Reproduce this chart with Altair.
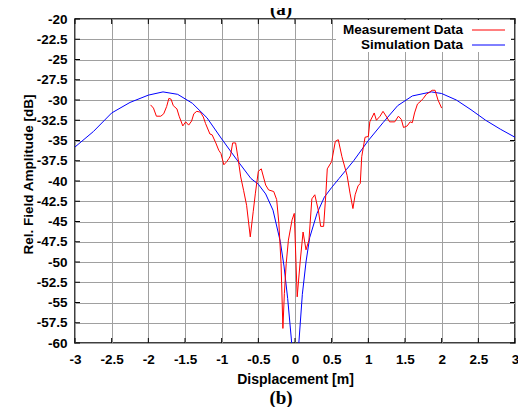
import altair as alt
import pandas as pd

# Simulation (blue) curve
sim_x = [-3.0, -2.75, -2.5, -2.25, -2.0, -1.8, -1.6, -1.4, -1.2, -1.0, -0.8, -0.6, -0.5, -0.4, -0.3,
         -0.2, -0.15, -0.1, -0.05, -0.03, 0.0, 0.03, 0.05, 0.1, 0.15, 0.2, 0.3, 0.4, 0.5, 0.6, 0.7,
         0.8, 1.0, 1.2, 1.4, 1.6, 1.86, 2.0, 2.2, 2.4, 2.6, 2.8, 3.0]
sim_y = [-35.8, -33.9, -31.6, -30.3, -29.4, -29.0, -29.3, -30.4, -32.2, -34.8, -37.3, -39.7, -40.4, -41.6, -43.6,
         -47.5, -50.5, -54.5, -59.5, -62.0, -70.0, -62.0, -60.3, -54.0, -50.0, -47.0, -44.0, -42.0, -40.8, -39.7, -38.6,
         -37.5, -35.0, -32.8, -30.7, -29.5, -29.0, -29.2, -30.0, -31.2, -32.5, -33.6, -34.6]

# Measurement (red) data
meas_x = [-1.97, -1.93, -1.89, -1.83, -1.79, -1.75, -1.72, -1.69, -1.66, -1.61, -1.58, -1.53, -1.49, -1.45,
          -1.41, -1.38, -1.34, -1.29, -1.25, -1.22, -1.16, -1.13, -1.08, -1.04, -1.01, -0.97, -0.93, -0.90,
          -0.88, -0.85, -0.81, -0.78, -0.74, -0.70, -0.66, -0.61, -0.57, -0.54, -0.50, -0.46, -0.40, -0.36,
          -0.29, -0.25, -0.22, -0.19, -0.165, -0.145, -0.12, -0.09, -0.04, -0.01, 0.03, 0.07, 0.11, 0.15,
          0.19, 0.23, 0.27, 0.32, 0.35, 0.39, 0.42, 0.44, 0.50, 0.55, 0.59, 0.64, 0.71, 0.75, 0.79, 0.82,
          0.86, 0.89, 0.91, 0.955, 1.0, 1.02, 1.08, 1.11, 1.16, 1.20, 1.25, 1.29, 1.36, 1.41, 1.45, 1.48,
          1.53, 1.57, 1.60, 1.63, 1.67, 1.72, 1.75, 1.79, 1.84, 1.87, 1.91, 1.95, 2.0]
meas_y = [-30.6, -31.0, -32.0, -32.0, -31.7, -30.8, -29.8, -29.9, -30.7, -31.1, -32.0, -33.2, -32.7, -33.1,
          -32.6, -31.7, -31.4, -31.5, -32.1, -32.9, -34.2, -34.3, -35.3, -36.2, -36.6, -38.0, -37.6, -37.2,
          -36.9, -35.3, -35.3, -37.0, -39.5, -41.2, -43.0, -46.9, -43.8, -41.5, -38.8, -38.5, -40.5, -41.1,
          -41.3, -42.3, -45.2, -50.2, -58.2, -53.9, -50.2, -47.3, -44.8, -44.0, -54.3, -50.0, -46.3, -48.5,
          -47.3, -42.2, -41.7, -43.7, -45.6, -45.6, -41.7, -38.5, -37.6, -35.1, -34.9, -37.0, -39.3, -41.5,
          -43.4, -41.7, -40.6, -40.3, -37.0, -34.6, -34.5, -32.7, -31.6, -32.5, -32.0, -31.4, -32.1, -32.7,
          -32.7, -32.0, -32.4, -33.4, -33.2, -32.7, -32.8, -31.6, -30.5, -30.1, -29.8, -29.3, -29.0, -28.8,
          -28.8, -30.0, -31.0]

x_ticks = [-3, -2.5, -2, -1.5, -1, -0.5, 0, 0.5, 1, 1.5, 2, 2.5, 3]
y_ticks = [-60, -57.5, -55, -52.5, -50, -47.5, -45, -42.5, -40, -37.5, -35, -32.5, -30, -27.5, -25, -22.5, -20]

series_names = ["Measurement Data", "Simulation Data"]
series_colors = ["#ff0000", "#0000ff"]

W, H = 440, 324
FONT = "Liberation Sans"

sim_df = pd.DataFrame({"x": sim_x, "y": sim_y})
meas_df = pd.DataFrame({"x": meas_x, "y": meas_y})
xt_df = pd.DataFrame({"x": x_ticks})
yt_df = pd.DataFrame({"y": y_ticks})

xs = alt.Scale(domain=[-3, 3], nice=False, zero=False)
ys = alt.Scale(domain=[-60, -20], nice=False, zero=False)

xaxis = alt.Axis(values=x_ticks, labelExpr="datum.value + ''", title="Displacement [m]",
                 grid=True, ticks=False, domain=False, labelPadding=9, titlePadding=7,
                 labelFlush=False, labelOverlap=False)
yaxis = alt.Axis(values=y_ticks, labelExpr="datum.value + ''", title="Rel. Field Amplitude [dB]",
                 grid=True, ticks=False, domain=False, labelPadding=8, titlePadding=1,
                 labelFlush=False, labelOverlap=False, titleY=155)

def X(field):
    return alt.X(field, scale=xs, axis=xaxis)

def Y(field):
    return alt.Y(field, scale=ys, axis=yaxis)

sim_line = alt.Chart(sim_df).mark_line(color=series_colors[1], strokeWidth=1, clip=True).encode(
    x=X("x:Q"), y=Y("y:Q"))
meas_line = alt.Chart(meas_df).mark_line(color=series_colors[0], strokeWidth=1, clip=True).encode(
    x=X("x:Q"), y=Y("y:Q"))

tick_len = 5
ticks_bottom = alt.Chart(xt_df).mark_rule(color="black", strokeWidth=1).encode(
    x=X("x:Q"), y=alt.value(H), y2=alt.value(H - tick_len))
ticks_top = alt.Chart(xt_df).mark_rule(color="black", strokeWidth=1).encode(
    x=X("x:Q"), y=alt.value(0), y2=alt.value(tick_len))
ticks_left = alt.Chart(yt_df).mark_rule(color="black", strokeWidth=1).encode(
    y=Y("y:Q"), x=alt.value(0), x2=alt.value(tick_len))
ticks_right = alt.Chart(yt_df).mark_rule(color="black", strokeWidth=1).encode(
    y=Y("y:Q"), x=alt.value(W), x2=alt.value(W - tick_len))

legend_box = alt.Chart(pd.DataFrame({"k": [0]})).mark_rect(color="white").encode(
    x=alt.value(261), x2=alt.value(W - 4), y=alt.value(1), y2=alt.value(33))

legend_layers = []
for i, (name, col) in enumerate(zip(series_names, series_colors)):
    ly = 11 + 15 * i
    ldf = pd.DataFrame({"name": [name]})
    legend_layers.append(alt.Chart(ldf).mark_text(
        align="right", baseline="middle", font=FONT, fontWeight="bold", fontSize=13.5, color="black"
    ).encode(text="name:N", x=alt.value(388), y=alt.value(ly)))
    legend_layers.append(alt.Chart(ldf).mark_rule(color=col, strokeWidth=1).encode(
        x=alt.value(397), x2=alt.value(430), y=alt.value(ly)))

title_a = alt.Chart(pd.DataFrame({"t": ["(a)"]})).mark_text(
    align="center", baseline="alphabetic", font="Liberation Serif", fontWeight="bold", fontSize=19,
    color="black").encode(text="t:N", x=alt.value(206), y=alt.value(-4))
title_b = alt.Chart(pd.DataFrame({"t": ["(b)"]})).mark_text(
    align="center", baseline="alphabetic", font="Liberation Serif", fontWeight="bold", fontSize=19,
    color="black").encode(text="t:N", x=alt.value(206), y=alt.value(385))

chart = alt.layer(
    ticks_bottom, ticks_top, ticks_left, ticks_right, legend_box,
    sim_line, meas_line, *legend_layers, title_a, title_b
).properties(
    width=W, height=H,
    autosize=alt.AutoSizeParams(type="none"),
    padding={"left": 67, "top": 11, "right": 3, "bottom": 64},
).configure_view(
    stroke="black", strokeWidth=1.5
).configure_axis(
    labelFont=FONT, labelFontWeight="bold", labelFontSize=13.5, labelColor="black",
    titleFont=FONT, titleFontWeight="bold", titleFontSize=14, titleColor="black",
    gridColor="#a0a0a0", gridWidth=1, gridOpacity=1,
).configure_axisY(titleFontSize=13.5)

chart.save("out.html", embed_options={"renderer": "svg", "actions": False})
